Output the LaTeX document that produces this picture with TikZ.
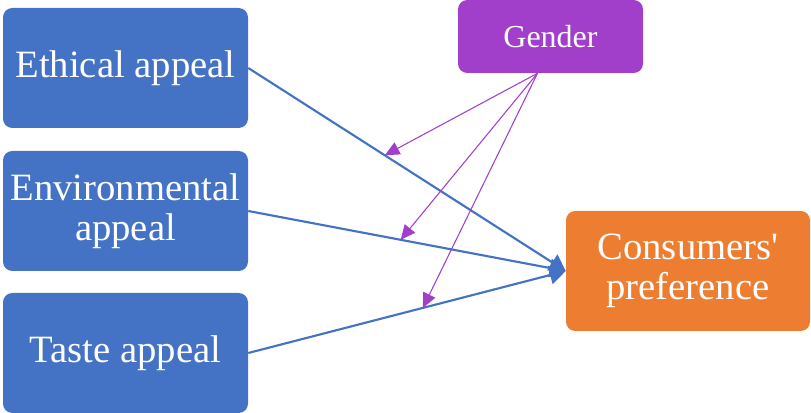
\documentclass[tikz,border=0pt]{standalone}
\usepackage{fontspec}
\setmainfont{Liberation Serif}
\usetikzlibrary{arrows.meta,calc}
\definecolor{appealblue}{HTML}{4472C4}
\definecolor{prefoange}{HTML}{ED7D31}
\definecolor{genderpurple}{HTML}{A23FCA}

\begin{document}
\begin{tikzpicture}[x=0.75pt,y=-0.75pt,
    appeal/.style={fill=appealblue, text=white, rounded corners=7pt, inner sep=0pt,
        minimum width=183.75pt, minimum height=90pt, align=center,
        font=\fontsize{29}{30}\selectfont},
    mainarrow/.style={draw=appealblue, line width=1.6pt, -{Triangle[length=12pt,width=14pt]}},
    modarrow/.style={draw=genderpurple, line width=0.8pt, -{Triangle[length=11pt,width=10pt]}}]
    \useasboundingbox (0,0) rectangle (811,413);

    \node[appeal] (eth) at (125.5,68) {Ethical appeal};
    \node[appeal] (env) at (125.5,211) {Environmental\\appeal};
    \node[appeal] (taste) at (125.5,353) {Taste appeal};
    \node[appeal, fill=genderpurple, minimum width=138.75pt, minimum height=54.75pt,
        font=\fontsize{24}{26}\selectfont] (gen) at (550.5,36.5) {Gender};
    \node[appeal, fill=prefoange, minimum width=183pt] (pref) at (688,271) {Consumers\textquotesingle\\preference};

    % direct effects
    \draw[mainarrow] (eth.east) -- (pref.west);
    \draw[mainarrow] (env.east) -- (pref.west);
    \draw[mainarrow] (taste.east) -- (pref.west);

    % moderation by gender
    \coordinate (gsrc) at ($(gen.south)+(-13,0)$);
    \path (eth.east) -- (pref.west) coordinate[pos=0.43] (m1);
    \path (env.east) -- (pref.west) coordinate[pos=0.48] (m2);
    \path (taste.east) -- (pref.west) coordinate[pos=0.55] (m3);
    \draw[modarrow] (gsrc) -- (m1);
    \draw[modarrow] (gsrc) -- (m2);
    \draw[modarrow] (gsrc) -- (m3);
\end{tikzpicture}
\end{document}
